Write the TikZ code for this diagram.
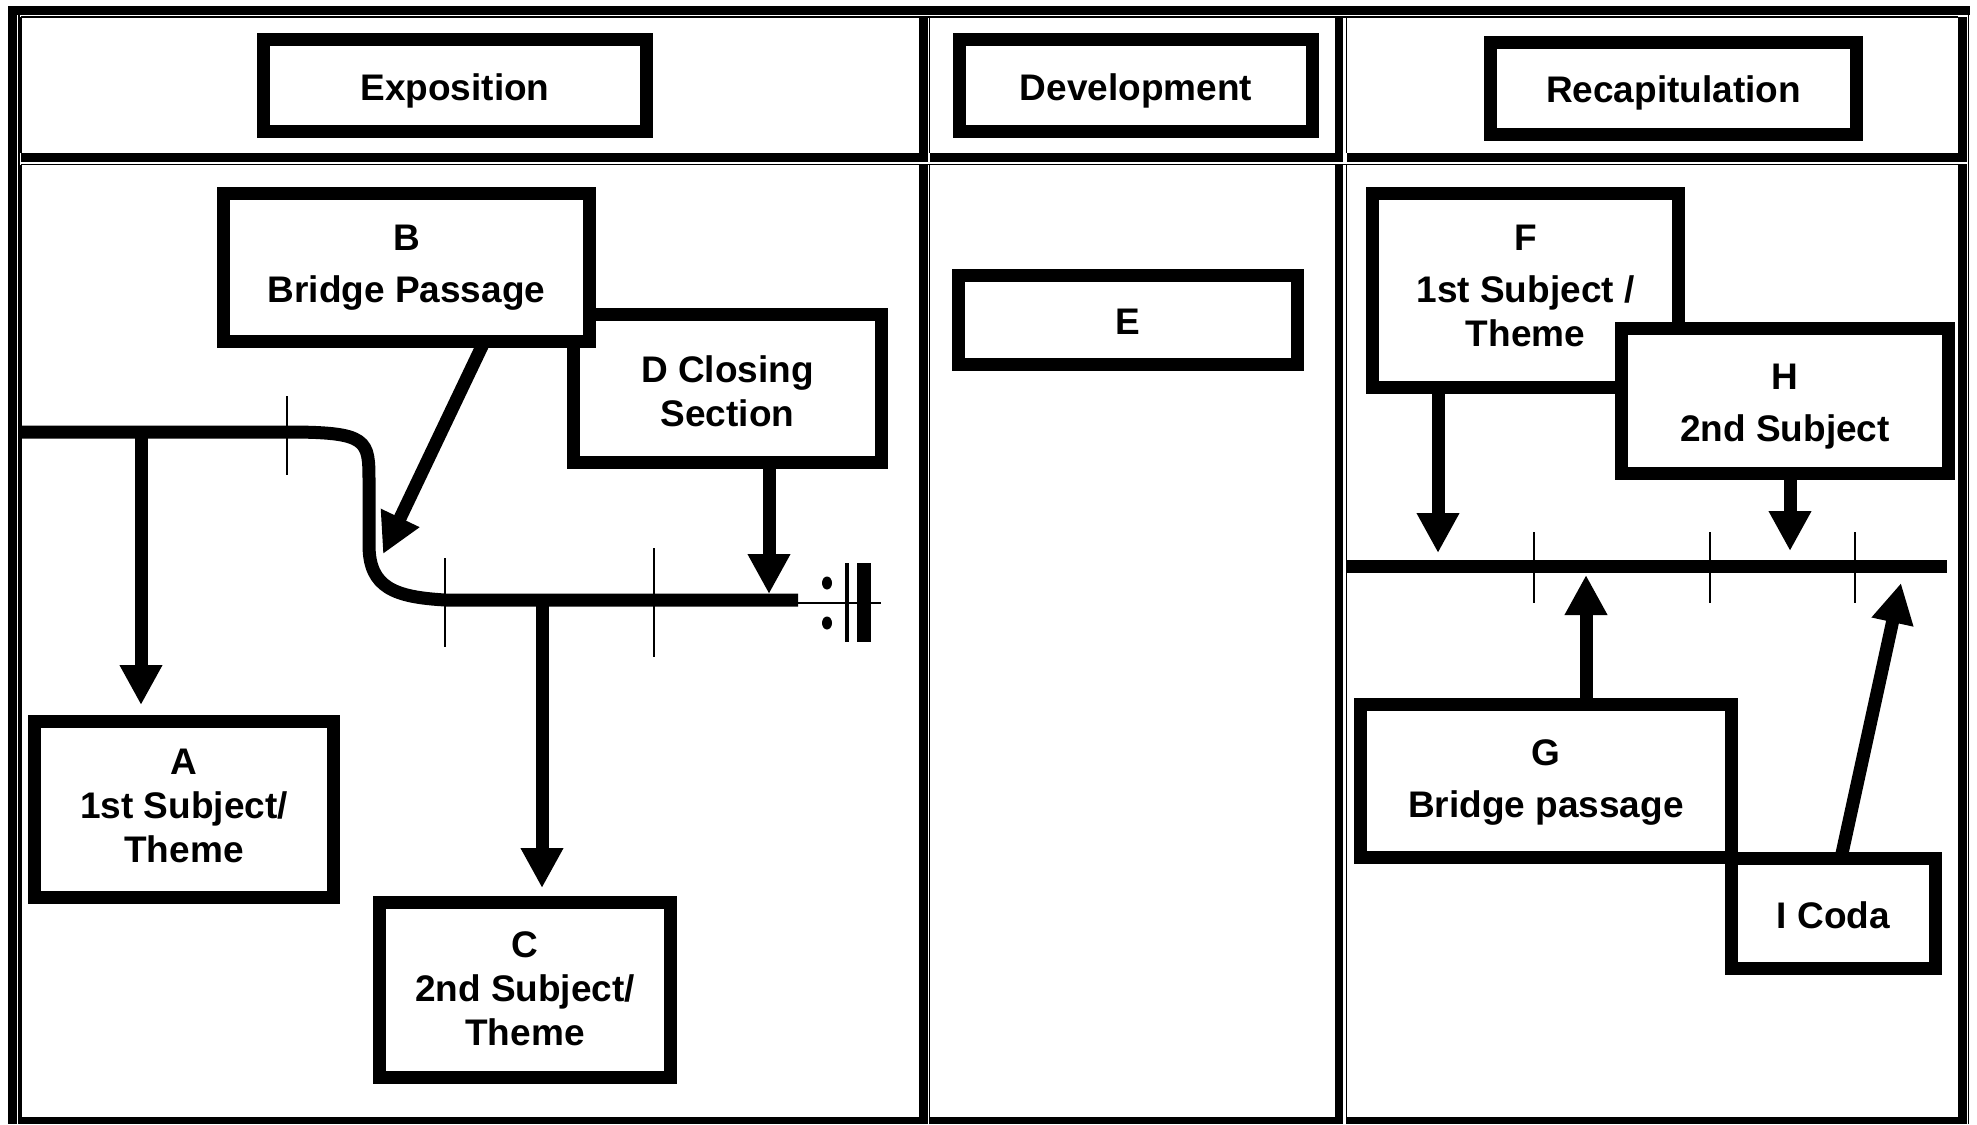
\documentclass[tikz,border=0pt]{standalone}
\usepackage{fontspec}
\setmainfont{Liberation Sans}
\usetikzlibrary{arrows.meta,calc}
\newcommand\padtop[1]{\rule{0pt}{#1}}
\newcommand\padbot[1]{\rule[-#1]{0pt}{#1}}
\begin{document}
\begin{tikzpicture}[x=1pt,y=-1pt,
  box/.style={draw, line width=13pt, fill=white, align=center, inner sep=0pt,
    font=\bfseries\fontsize{37}{44}\selectfont},
  arr/.style={line width=13pt, -{Triangle[length=40pt,width=40pt]}},
  tickmark/.style={line width=1.6pt},
  rulethin/.style={line width=1.5pt},
  thickline/.style={line width=13pt}]
\useasboundingbox (0,0) rectangle (1977,1124);
% ---------- table frame ----------
\fill (8,6) rectangle (1970,15);
\fill (8,6) rectangle (17,1124);
\draw[rulethin] (19,15) -- (19,1124);
\draw[rulethin] (1968.5,15) -- (1968.5,1124);
% cell top/left thin lines
\draw[rulethin] (21,17) -- (1958,17);
\draw[rulethin] (21,164.5) -- (1958,164.5);
\foreach \xx in {21,929.5,1346.5}{
  \draw[rulethin] (\xx,17) -- (\xx,153);
  \draw[rulethin] (\xx,164.5) -- (\xx,1124);
}
% thick bottom / right bands
\foreach \xa/\xb/\xr in {21/928/919, 930/1343/1335, 1347/1967/1958}{
  \fill (\xa,153) rectangle (\xb,162);
  \fill (\xa,1117) rectangle (\xb,1124);
  \fill (\xr,17) rectangle (\xb,162);
  \fill (\xr,164) rectangle (\xb,1124);
}
% ---------- header boxes ----------
\node[box, minimum width=383pt, minimum height=92pt] (expo) at (455,85.5) {\padtop{38pt}Exposition};
\node[box, minimum width=353pt, minimum height=92pt] (devel) at (1136,85.5) {\padtop{38pt}Development};
\node[box, minimum width=366pt, minimum height=92pt] (recap) at (1673.5,88.5) {\padtop{36pt}Recapitulation};
% ---------- exposition timeline ----------
\draw[thickline] (21,432) -- (287,432) .. controls (369,432) and (369,440) .. (369,482)
  -- (369,545) .. controls (369,588) and (395,597) .. (445,600) -- (798,600);
\draw[line width=2pt] (798,603) -- (881,603);
\draw[tickmark] (287,396) -- (287,475);
\draw[tickmark] (445,558) -- (445,647);
\draw[tickmark] (654,548) -- (654,657);
% end repeat sign
\fill (827,583) ellipse [x radius=5, y radius=6.5];
\fill (827,623) ellipse [x radius=5, y radius=6.5];
\fill (844.5,563) rectangle (848.5,642);
\fill (857,563) rectangle (871,642);
% ---------- exposition boxes ----------
\node[box, minimum width=308pt, minimum height=148pt] (D) at (727.5,388.5) {\padtop{33pt}D Closing\\Section};
\node[box, minimum width=366pt, minimum height=148pt] (B) at (406.5,267.5) {B\\[8pt]Bridge Passage};
\node[box, minimum width=299pt, minimum height=176pt] (A) at (184,809.5) {A\\1st Subject/\\Theme\padbot{8pt}};
\node[box, minimum width=291pt, minimum height=175pt] (C) at (525,990) {C\\2nd Subject/\\Theme\padbot{2pt}};
\coordinate (a0) at (141,432);
\coordinate (c0) at (542,600);
\coordinate (dT) at (769,594);
\coordinate (bT) at (383,554);
\coordinate (bS) at (484,0);
\draw[arr, shorten >=10pt] (a0) -- (A.north -| a0);
\draw[arr, shorten >=8pt] (c0) -- (C.north -| c0);
\draw[arr] (D.south -| dT) -- (dT);
\draw[arr] ($(B.south -| bS)+(0,-6)$) -- (bT);
% ---------- development ----------
\node[box, minimum width=339pt, minimum height=89pt] (E) at (1128,320) {\padtop{29pt}E};
% ---------- recapitulation ----------
\draw[thickline] (1347,566.5) -- (1947,566.5);
\draw[tickmark] (1534,532) -- (1534,603);
\draw[tickmark] (1710,532) -- (1710,603);
\draw[tickmark] (1855,532) -- (1855,603);
\node[box, minimum width=306pt, minimum height=194pt] (F) at (1525.5,290.5) {F\\[8pt]1st Subject /\\Theme\padbot{10pt}};
\node[box, minimum width=327pt, minimum height=145pt] (H) at (1785,401) {\padtop{37pt}H\\[8pt]2nd Subject};
\node[box, minimum width=204pt, minimum height=110pt] (I) at (1833.5,913.5) {\padtop{31pt}I Coda};
\node[box, minimum width=371pt, minimum height=153pt] (G) at (1546,781) {\padtop{28pt}G\\[8pt]Bridge passage};
\coordinate (fT) at (1438,553);
\coordinate (hT) at (1790,551);
\coordinate (gT) at (1586,575);
\coordinate (iT) at (1901,583);
\coordinate (iS) at (1841,0);
\draw[arr] (F.south -| fT) -- (fT);
\draw[arr] (H.south -| hT) -- (hT);
\draw[arr] (G.north -| gT) -- (gT);
\draw[arr] ($(I.north -| iS)+(0,6)$) -- (iT);
\end{tikzpicture}
\end{document}
